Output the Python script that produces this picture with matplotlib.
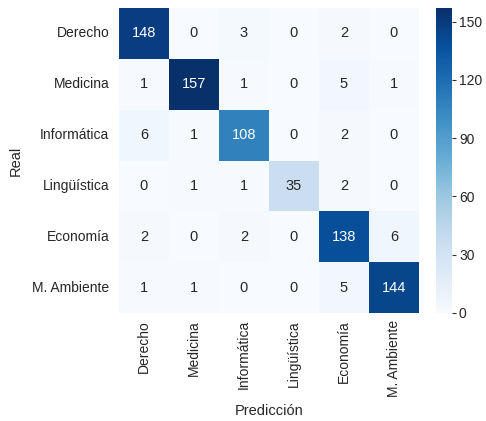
import numpy as np
import matplotlib
matplotlib.use("Agg")
import matplotlib.pyplot as plt
import seaborn as sns

sns.set_theme(style="white")
plt.rcParams["font.family"] = ["Liberation Sans", "DejaVu Sans"]

# Confusion matrix of the classifier (rows: true class, columns: predicted)
clases = ["Derecho", "Medicina", "Informática", "Lingüística", "Economía", "M. Ambiente"]
derecho = [148, 0, 3, 0, 2, 0]
medicina = [1, 157, 1, 0, 5, 1]
informatica = [6, 1, 108, 0, 2, 0]
linguistica = [0, 1, 1, 35, 2, 0]
economia = [2, 0, 2, 0, 138, 6]
ambiente = [1, 1, 0, 0, 5, 144]

matriz = np.array([derecho, medicina, informatica, linguistica, economia, ambiente])

fig = plt.figure(figsize=(4.86, 4.21), dpi=100)
ax = fig.add_axes([119 / 486, 1 - 313 / 421, 300 / 486, 305 / 421])
cax = fig.add_axes([436 / 486, 1 - 313 / 421, 16 / 486, 305 / 421])

sns.heatmap(matriz, annot=True, fmt="d", cmap="Blues", ax=ax, cbar_ax=cax,
            xticklabels=clases, yticklabels=clases, annot_kws={"size": 10.5})
cax.set_yticks([0, 30, 60, 90, 120, 150])
cax.tick_params(labelsize=10, right=True, length=3, width=0.8, pad=2, color="#333333")
ax.tick_params(axis="y", labelsize=10, length=0, pad=7)
ax.tick_params(axis="x", labelsize=10, length=0, pad=5)
ax.set_xlabel("Predicción", fontsize=10.5, labelpad=5)
ax.set_ylabel("Real", fontsize=10.5, labelpad=6.5)

fig.savefig("out.png", dpi=100)
